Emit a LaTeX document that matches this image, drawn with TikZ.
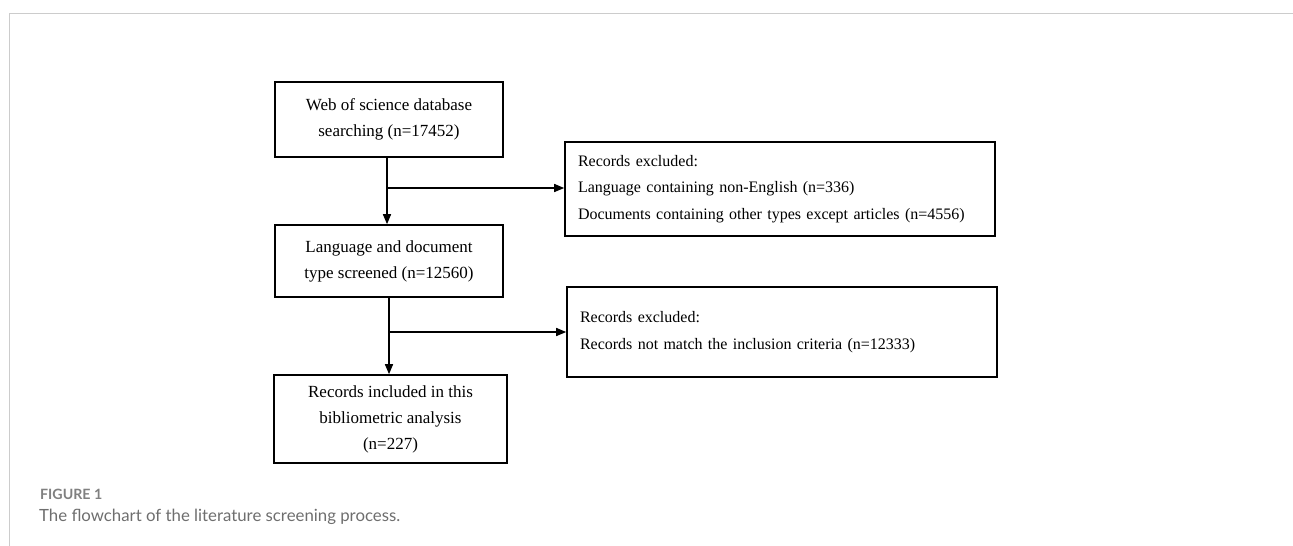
\documentclass[tikz,border=0pt]{standalone}
\usepackage{fontspec}
\setmainfont{Liberation Serif}
\newfontfamily\capfont{Lato}
\usetikzlibrary{arrows.meta}
\definecolor{framegray}{HTML}{CCCCCC}
\definecolor{captitle}{HTML}{808080}
\definecolor{captext}{HTML}{6E6E6E}
\tikzset{
  flowbox/.style={draw=black, line width=1.6pt, rectangle, inner sep=0pt,
    font=\fontsize{17}{26}\selectfont, align=center},
  exclbox/.style={draw=black, line width=1.6pt, rectangle, inner xsep=13pt, inner ysep=0pt,
    font=\fontsize{16}{26.5}\selectfont, align=left, text width=404pt},
  link/.style={line width=1.5pt, draw=black},
  arr/.style={link, -{Triangle[length=10pt,width=8pt]}},
}
\begin{document}
\begin{tikzpicture}[x=1pt,y=1pt]
\useasboundingbox (0,0) rectangle (1293,-546);
% frame
\draw[framegray, line width=1pt] (9,-546) -- (9,-13) -- (1293,-13);
% boxes
\node[flowbox, minimum width=228pt, minimum height=75pt] (web) at (389,-119.5)
  {Web of science database\\searching (n=17452)};
\node[flowbox, minimum width=228pt, minimum height=72pt] (lang) at (389,-261)
  {Language and document\\type screened (n=12560)};
\node[flowbox, minimum width=233pt, minimum height=88pt] (incl) at (390.5,-419)
  {Records included in this\\bibliometric analysis\\(n=227)};
\node[exclbox, minimum height=94pt] (exA) at (780,-189)
  {Records excluded:\\Language containing non-English (n=336)\\Documents containing other types except articles (n=4556)};
\node[exclbox, minimum height=90pt] (exB) at (782,-332)
  {Records excluded:\\Records not match the inclusion criteria (n=12333)};
% connectors
\coordinate (j1) at (387,-188);
\coordinate (j2) at (389,-332);
\draw[arr] (web.south -| j1) -- (lang.north -| j1);
\draw[arr] (j1) -- (exA.west |- j1);
\draw[arr] (lang.south -| j2) -- (incl.north -| j2);
\draw[arr] (j2) -- (exB.west |- j2);
% caption
\node[anchor=base west, inner sep=0pt, text=captitle, font=\capfont\fontsize{14.2}{16}\selectfont\bfseries] (figlbl) at (40,-499) {FIGURE 1};
\node[anchor=base west, inner sep=0pt, text=captext, font=\capfont\fontsize{16.8}{20}\selectfont] (figcap) at (39,-521) {The flowchart of the literature screening process.};
\end{tikzpicture}
\end{document}
